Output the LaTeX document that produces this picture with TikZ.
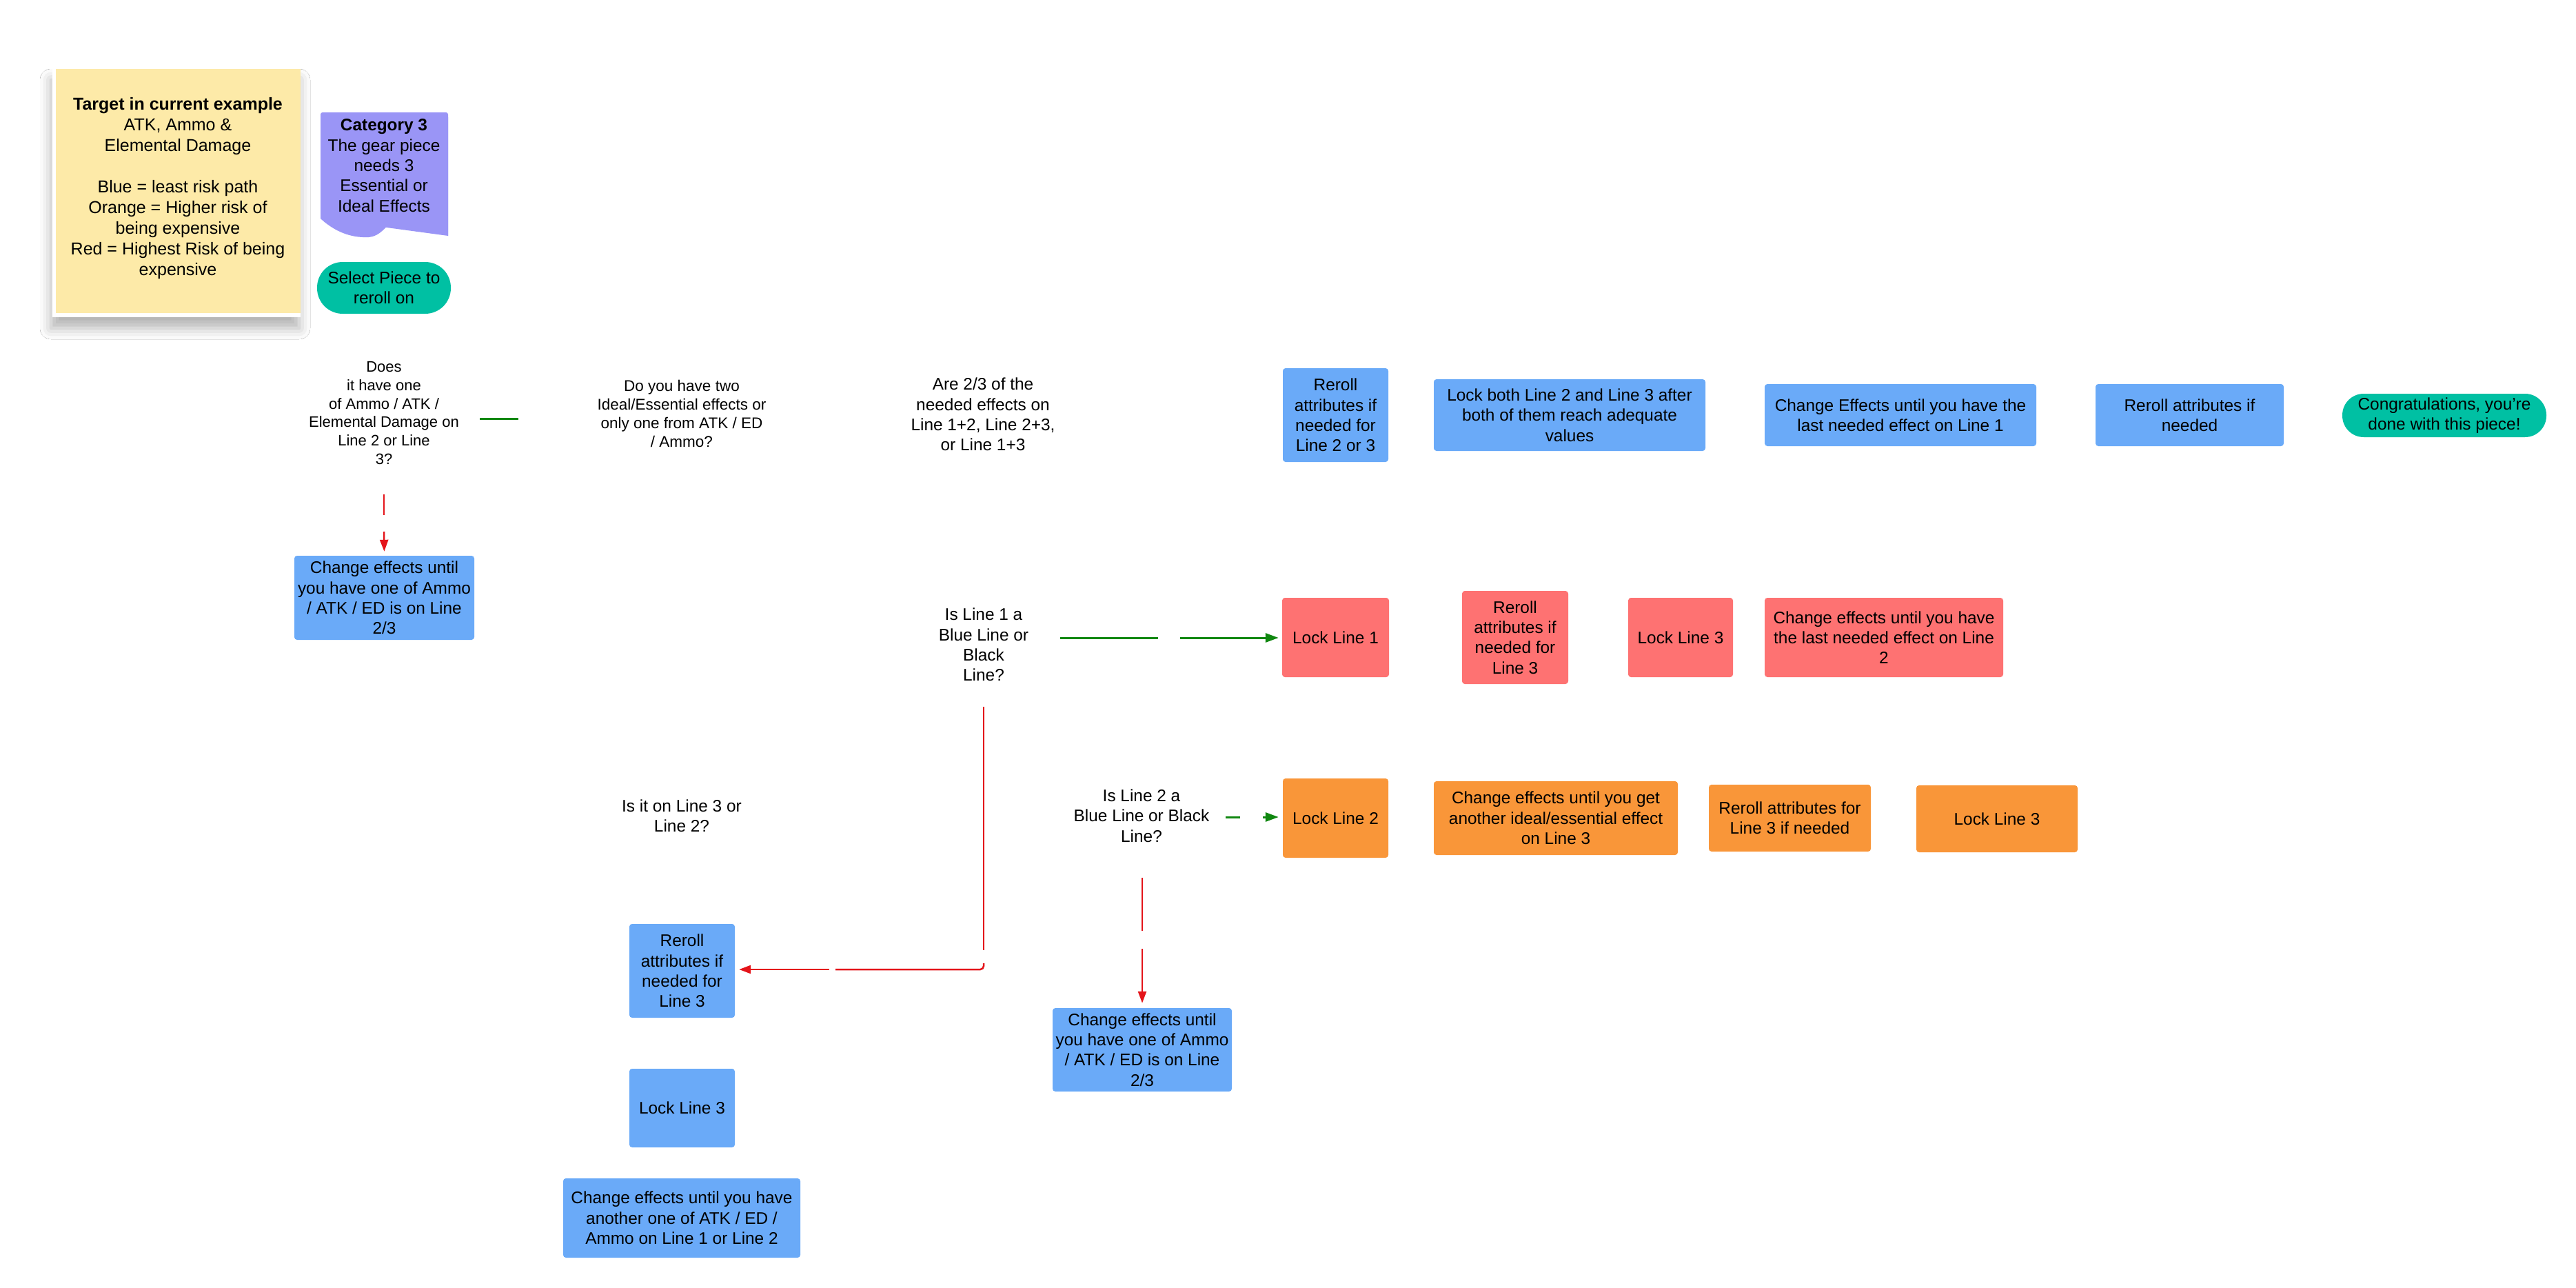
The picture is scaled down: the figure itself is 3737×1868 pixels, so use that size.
\documentclass[tikz,border=0pt]{standalone}
\usepackage{fontspec}
\setmainfont{Liberation Sans}
\usetikzlibrary{arrows.meta,shadows.blur}
\definecolor{cblue}{RGB}{106,170,248}
\definecolor{cred}{RGB}{254,114,114}
\definecolor{corange}{RGB}{249,150,57}
\definecolor{cteal}{RGB}{0,192,163}
\definecolor{cpurple}{RGB}{154,149,246}
\definecolor{cyellow}{RGB}{253,234,168}
\definecolor{cgreen}{RGB}{16,135,16}
\definecolor{clred}{RGB}{228,20,26}
\begin{document}
\begin{tikzpicture}[x=1pt,y=-1pt,
  every node/.style={inner sep=0pt, align=center, font=\fontsize{24.4}{29.3}\selectfont},
  box/.style={rounded corners=4pt},
  bluebox/.style={box, fill=cblue},
  redbox/.style={box, fill=cred},
  orangebox/.style={box, fill=corange},
  pill/.style={fill=cteal},
  greenline/.style={draw=cgreen, line width=3pt},
  greenarrow/.style={draw=cgreen, line width=3pt, -{Triangle[length=19pt,width=13pt]}},
  redline/.style={draw=clred, line width=2.5pt},
  redarrow/.style={draw=clred, line width=2.5pt, -{Triangle[length=17pt,width=12pt]}}
]
\fill[white] (0,0) rectangle (3737,1868);
\useasboundingbox (0,0) rectangle (3737,1868);

% sticky note
\node[fill=white, minimum width=360pt, minimum height=360pt,
  blur shadow={shadow xshift=-2pt, shadow yshift=-16pt, shadow blur radius=16pt, shadow opacity=30}] (paper) at (256,280) {};
\node[fill=cyellow, minimum width=355pt, minimum height=354pt] (note) at (258.5,277) {};
\node[font=\fontsize{25}{30}\selectfont] (notetext) at (258,273)
  {\textbf{Target in current example}\\ATK, Ammo \&\\Elemental Damage\\[30pt]Blue = least risk path\\Orange = Higher risk of\\being expensive\\Red = Highest Risk of being\\expensive};

% category document shape
\fill[cpurple, rounded corners=3pt] (465,317) -- (465,163) -- (650,163) -- (650,342);
\fill[cpurple] (465,170) -- (465,317) .. controls (490,340) and (515,345) .. (535,344)
   .. controls (558,342) and (565,315) .. (582,315)
   .. controls (610,315) and (632,328) .. (650,342) -- (650,170) -- cycle;
\node (cattext) at (557,240) {\textbf{Category 3}\\The gear piece\\needs 3\\Essential or\\Ideal Effects};

% start
\node[pill, rounded corners=37pt, minimum width=194pt, minimum height=75pt] (sel) at (557,417.5) {Select Piece to\\reroll on};

% decisions (text only)
\node[font=\fontsize{22}{26.7}\selectfont] (d1) at (557,599) {Does\\it have one\\of Ammo / ATK /\\Elemental Damage on\\Line 2 or Line\\3?};
\node[font=\fontsize{22.5}{27}\selectfont] (d2) at (989,600) {Do you have two\\Ideal/Essential effects or\\only one from ATK / ED\\/ Ammo?};
\node (d3) at (1426,601) {Are 2/3 of the\\needed effects on\\Line 1+2, Line 2+3,\\or Line 1+3};
\node (d4) at (1427,935) {Is Line 1 a\\Blue Line or\\Black\\Line?};
\node (d5) at (989,1183.5) {Is it on Line 3 or\\Line 2?};
\node (d6) at (1656,1183) {Is Line 2 a\\Blue Line or Black\\Line?};

% blue boxes
\node[bluebox, minimum width=261pt, minimum height=122pt] (b1) at (557.5,867) {Change effects until\\you have one of Ammo\\/ ATK / ED is on Line\\2/3};
\node[bluebox, minimum width=153pt, minimum height=136pt] (b2) at (1937.5,602) {Reroll\\attributes if\\needed for\\Line 2 or 3};
\node[bluebox, minimum width=394pt, minimum height=104pt] (b3) at (2277,602) {Lock both Line 2 and Line 3 after\\both of them reach adequate\\values};
\node[bluebox, minimum width=394pt, minimum height=90pt] (b4) at (2757,602) {Change Effects until you have the\\last needed effect on Line 1};
\node[bluebox, minimum width=273pt, minimum height=90pt] (b5) at (3176.5,602) {Reroll attributes if\\needed};
\node[pill, rounded corners=31pt, minimum width=296pt, minimum height=63pt] (done) at (3546,602.5) {Congratulations, you're\\done with this piece!};
\node[bluebox, minimum width=153pt, minimum height=136pt] (b6) at (989.5,1408) {Reroll\\attributes if\\needed for\\Line 3};
\node[bluebox, minimum width=153pt, minimum height=114pt] (b7) at (989.5,1607) {Lock Line 3};
\node[bluebox, minimum width=344pt, minimum height=115pt] (b8) at (989,1766.5) {Change effects until you have\\another one of ATK / ED /\\Ammo on Line 1 or Line 2};
\node[bluebox, minimum width=260pt, minimum height=121pt] (b9) at (1657,1522.5) {Change effects until\\you have one of Ammo\\/ ATK / ED is on Line\\2/3};

% red boxes
\node[redbox, minimum width=155pt, minimum height=115pt] (r1) at (1937.5,924.5) {Lock Line 1};
\node[redbox, minimum width=154pt, minimum height=135pt] (r2) at (2198,924.5) {Reroll\\attributes if\\needed for\\Line 3};
\node[redbox, minimum width=152pt, minimum height=115pt] (r3) at (2438,924.5) {Lock Line 3};
\node[redbox, minimum width=346pt, minimum height=115pt] (r4) at (2733,924.5) {Change effects until you have\\the last needed effect on Line\\2};

% orange boxes
\node[orangebox, minimum width=153pt, minimum height=115pt] (o1) at (1937.5,1186.5) {Lock Line 2};
\node[orangebox, minimum width=354pt, minimum height=107pt] (o2) at (2257,1186.5) {Change effects until you get\\another ideal/essential effect\\on Line 3};
\node[orangebox, minimum width=235pt, minimum height=97pt] (o3) at (2596.5,1186.5) {Reroll attributes for\\Line 3 if needed};
\node[orangebox, minimum width=234pt, minimum height=97pt] (o4) at (2897,1187.5) {Lock Line 3};

% connectors (visible parts)
\coordinate (g1a) at (696,607);
\coordinate (g1b) at (752,607);
\draw[greenline] (g1a) -- (g1b);

\coordinate (ra1) at (557,717);
\coordinate (ra2) at (557,747);
\coordinate (ra3) at (557,771);
\draw[redline] (ra1) -- (ra2);
\draw[redarrow, shorten >=6pt] (ra3) -- (b1.north);

\coordinate (g2a) at (1538,925);
\coordinate (g2b) at (1680,925);
\coordinate (g2c) at (1712,925);
\draw[greenline] (g2a) -- (g2b);
\draw[greenarrow, shorten >=5pt] (g2c) -- (r1.west |- g2c);

\coordinate (g3a) at (1778,1185);
\coordinate (g3b) at (1799,1185);
\coordinate (g3c) at (1832,1185);
\draw[greenline] (g3a) -- (g3b);
\draw[greenarrow, shorten >=6pt] (g3c) -- (o1.west |- g3c);

\coordinate (rb1) at (1427,1025);
\coordinate (rb2) at (1427,1378);
\coordinate (rb3) at (1427,1397);
\coordinate (rb4) at (1212,1406);
\coordinate (rb5) at (1203,1406);
\draw[redline] (rb1) -- (rb2);
\draw[redline, rounded corners=5pt] (rb3) |- (rb4);
\draw[redarrow, shorten >=6pt] (rb5) -- (b6.east |- rb5);

\coordinate (rc1) at (1657,1273);
\coordinate (rc2) at (1657,1350);
\coordinate (rc3) at (1657,1376);
\draw[redline] (rc1) -- (rc2);
\draw[redarrow, shorten >=7pt] (rc3) -- (b9.north);
\end{tikzpicture}
\end{document}
